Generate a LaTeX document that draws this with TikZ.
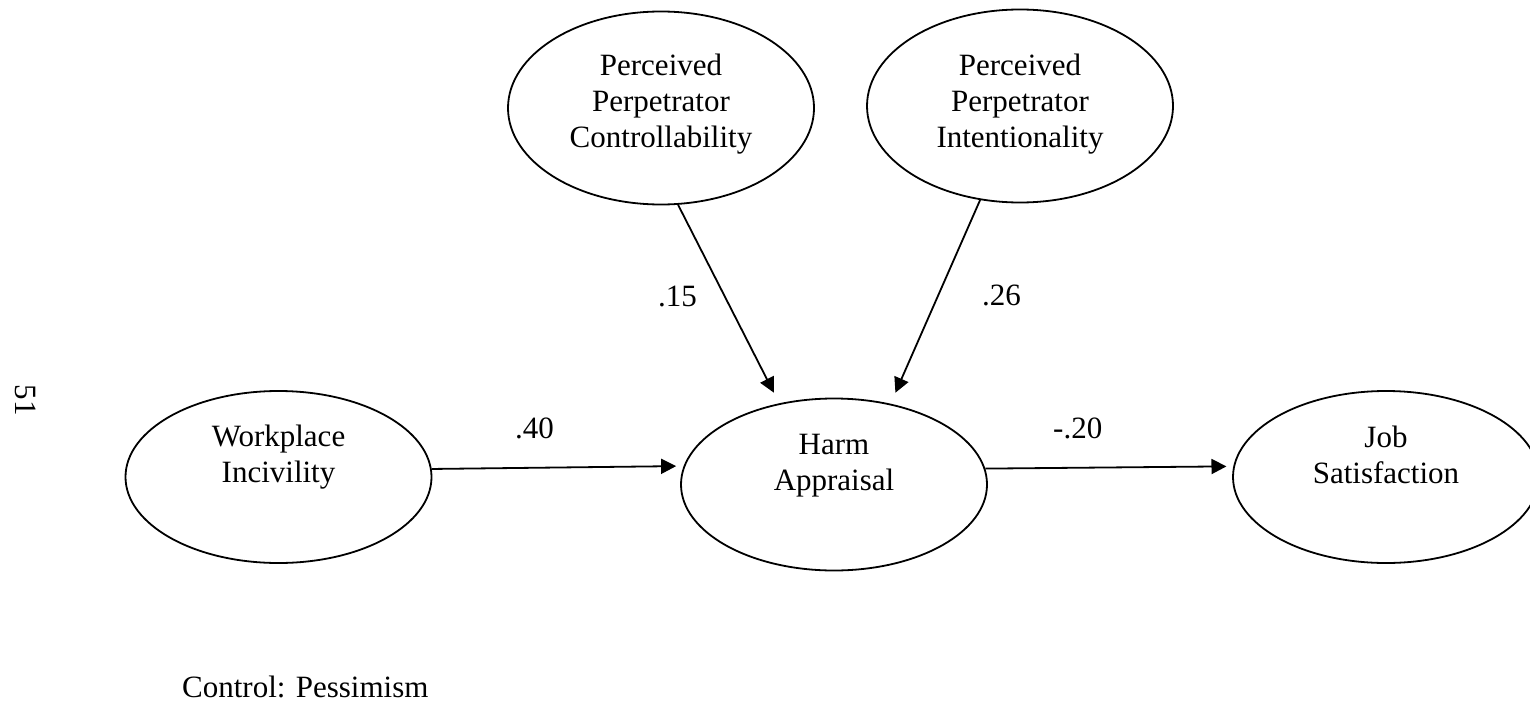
\documentclass[tikz,border=0pt]{standalone}
\usepackage{fontspec}
\setmainfont{Liberation Serif}
\usetikzlibrary{shapes.geometric,arrows.meta}
\begin{document}
\begin{tikzpicture}[x=1pt,y=1pt,
  latent/.style={ellipse, draw, line width=1.8pt, inner sep=0pt, minimum width=306pt},
  twoline/.style={latent, minimum height=172pt},
  threeline/.style={latent, minimum height=193pt},
  caption/.style={align=center, inner sep=0pt, font=\fontsize{31}{36}\selectfont},
  coef/.style={anchor=base west, inner sep=0pt, font=\fontsize{31}{36}\selectfont},
  effect/.style={line width=1.8pt, -{Triangle[length=15pt,width=15pt]}}
]
\useasboundingbox (0,0) rectangle (1530,-706);

% latent variables
\node[threeline, label={[caption, yshift=4pt]center:\strut Perceived\\\strut Perpetrator\\\strut Controllability}] (ctrl) at (661,-108) {};
\node[threeline, label={[caption, yshift=2pt]center:\strut Perceived\\\strut Perpetrator\\\strut Intentionality}] (intent) at (1020,-106) {};
\node[twoline, label={[caption, yshift=20pt]center:\strut Workplace\\\strut Incivility}] (work) at (278.5,-477) {};
\node[twoline, label={[caption, yshift=19pt]center:\strut Harm\\\strut Appraisal}] (harm) at (834,-484.5) {};
\node[twoline, label={[caption, yshift=19pt]center:\strut Job\\\strut Satisfaction}] (job) at (1386,-477) {};

% paths
\draw[effect, shorten >=12pt] (ctrl.-80) -- (harm.124);
\draw[effect, shorten >=12pt] (intent.-113.6) -- (harm.55.6);
\draw[effect, shorten >=7.5pt] (work.3.35) -- (harm.173.6);
\draw[effect, shorten >=6.8pt] (harm.6.35) -- (job.176.6);

% path coefficients
\node[coef] (b15) at (658,-306) {.15};
\node[coef] (b26) at (982,-305) {.26};
\node[coef] (b40) at (515,-438) {.40};
\node[coef] (b20) at (1053,-438) {-.20};

% notes
\node[coef] (controlnote) at (182,-697) {Control: Pessimism};
\node[inner sep=0pt, rotate=-90, font=\fontsize{31}{36}\selectfont] (pagenum) at (26,-400) {51};
\end{tikzpicture}
\end{document}
